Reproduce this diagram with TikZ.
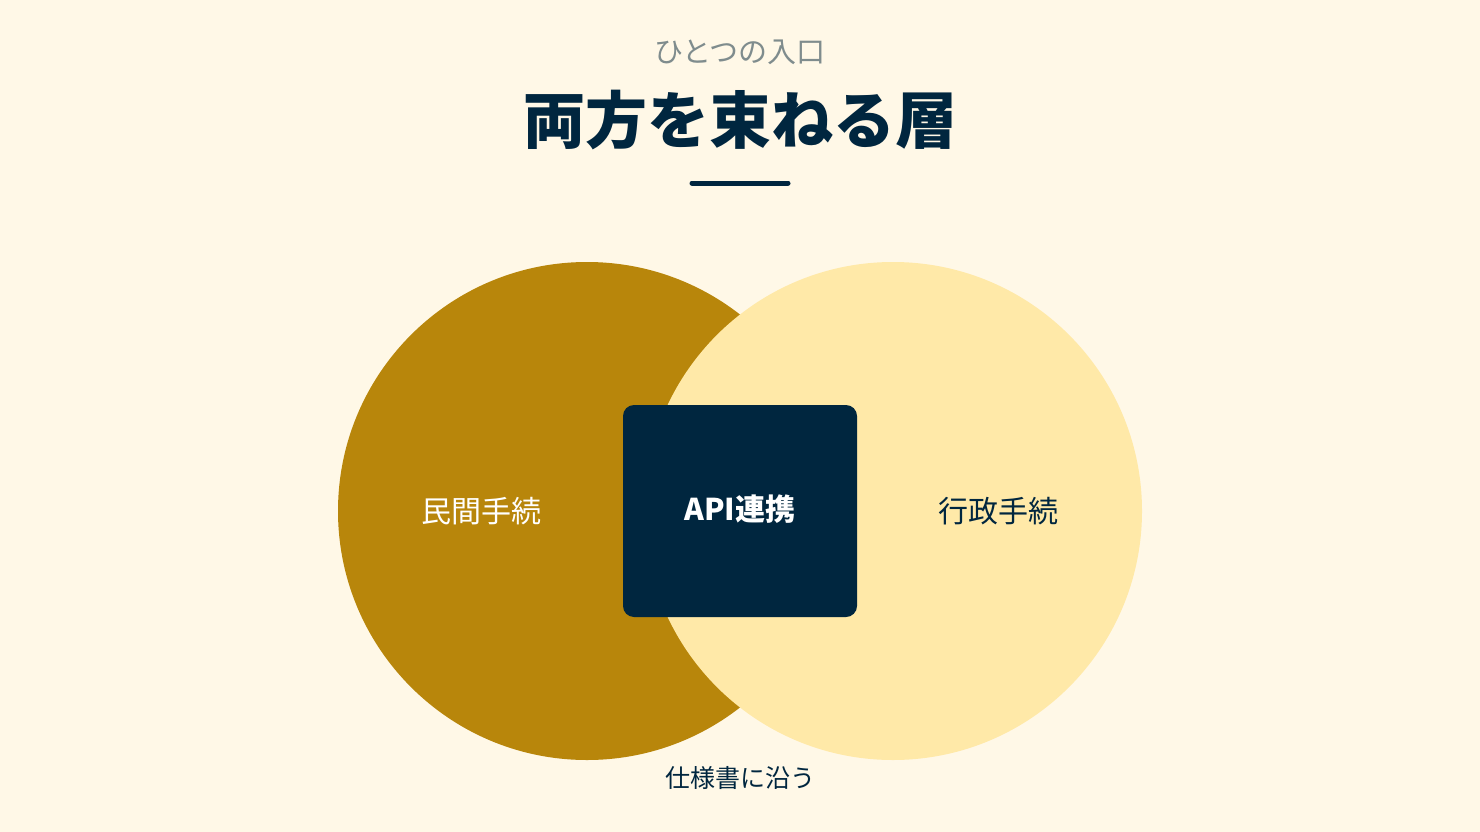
\documentclass[tikz,border=0pt]{standalone}
\usepackage{fontspec}
\setmainfont{Noto Sans CJK JP}
\definecolor{bg}{HTML}{FFF8E7}
\definecolor{gold}{HTML}{B8860B}
\definecolor{cream}{HTML}{FFE9A8}
\definecolor{navy}{HTML}{00263F}
\definecolor{grey}{HTML}{7F8C8D}
\tikzset{
  disc/.style={circle, inner sep=0pt, minimum size=498pt},
  lbl/.style={font=\fontsize{30}{34}\selectfont, inner sep=0pt}
}
\begin{document}
\begin{tikzpicture}[x=1pt, y=-1pt]
\useasboundingbox (0,0) rectangle (1480,832);
\fill[bg] (0,0) rectangle (1480,832);

\node[text=grey, font=\fontsize{29}{32}\selectfont, inner sep=0pt] (subtitle) at (740,52) {ひとつの入口};
\node[text=navy, font=\fontsize{62}{66}\bfseries, inner sep=0pt] (title) at (740,120) {両方を束ねる層};
\coordinate (ruleL) at (692,183);
\coordinate (ruleR) at (788,183);
\draw[navy, line width=5pt, line cap=round] (ruleL) -- (ruleR);

\node[disc, fill=gold] (priv) at (587,511) {};
\node[disc, fill=cream] (gov) at (893,511) {};

\node[fill=navy, rounded corners=11pt, minimum width=234pt, minimum height=212pt] (api) at (740,511) {};
\node[lbl, text=white, font=\fontsize{30}{34}\bfseries] (apitext) at (740,509) {API連携};

\node[lbl, text=white] (privtext) at (481,511) {民間手続};
\node[lbl, text=navy] (govtext) at (998,511) {行政手続};

\node[lbl, text=navy, font=\fontsize{25}{28}\selectfont] (spec) at (740,778) {仕様書に沿う};
\end{tikzpicture}
\end{document}
